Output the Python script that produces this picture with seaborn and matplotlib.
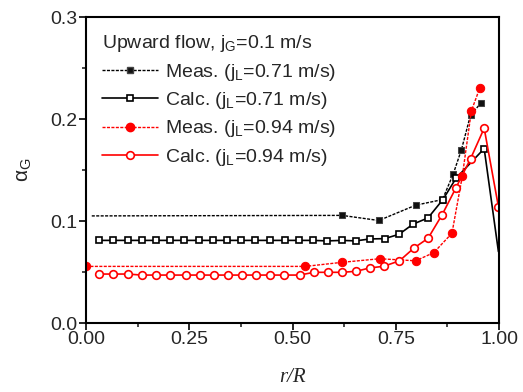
import matplotlib
matplotlib.use("Agg")
import matplotlib.pyplot as plt
from matplotlib.lines import Line2D
from matplotlib.ticker import MultipleLocator
import pandas as pd
import seaborn as sns

# Measured, j_L = 0.71 m/s (first point carries no marker)
meas71_x = [0.014, 0.620, 0.709, 0.798, 0.863, 0.889, 0.909, 0.931, 0.956]
meas71_y = [0.105, 0.1055, 0.1005, 0.1155, 0.121, 0.146, 0.170, 0.204, 0.2155]

# Calculated, j_L = 0.71 m/s
calc71_x = [0.032, 0.066, 0.101, 0.135, 0.170, 0.204, 0.238, 0.273, 0.307, 0.342,
            0.376, 0.410, 0.446, 0.481, 0.515, 0.549, 0.584, 0.620, 0.653, 0.687,
            0.723, 0.758, 0.792, 0.828, 0.864, 0.896, 0.964, 0.9985]
calc71_y = [0.081, 0.081, 0.081, 0.081, 0.081, 0.081, 0.081, 0.081, 0.081, 0.081,
            0.081, 0.081, 0.081, 0.081, 0.081, 0.081, 0.0805, 0.081, 0.0805, 0.0824,
            0.0827, 0.087, 0.097, 0.103, 0.121, 0.142, 0.171, 0.070]

# Measured, j_L = 0.94 m/s
meas94_x = [0.0, 0.531, 0.620, 0.711, 0.798, 0.842, 0.886, 0.911, 0.933, 0.953]
meas94_y = [0.0555, 0.0555, 0.0595, 0.063, 0.061, 0.069, 0.088, 0.1438, 0.208, 0.230]

# Calculated, j_L = 0.94 m/s
calc94_x = [0.032, 0.066, 0.101, 0.135, 0.170, 0.204, 0.241, 0.275, 0.309, 0.343,
            0.377, 0.412, 0.446, 0.479, 0.517, 0.552, 0.586, 0.620, 0.654, 0.687,
            0.721, 0.759, 0.794, 0.828, 0.862, 0.895, 0.931, 0.964, 0.9985]
calc94_y = [0.048, 0.048, 0.048, 0.047, 0.047, 0.047, 0.047, 0.047, 0.047, 0.047,
            0.047, 0.047, 0.047, 0.047, 0.047, 0.0497, 0.0497, 0.0497, 0.0507, 0.054,
            0.0556, 0.061, 0.0735, 0.083, 0.106, 0.132, 0.161, 0.191, 0.114]

title = "Upward flow, j$_\\mathregular{G}$=0.1 m/s"
labels = ["Meas. (j$_\\mathregular{L}$=0.71 m/s)", "Calc. (j$_\\mathregular{L}$=0.71 m/s)",
          "Meas. (j$_\\mathregular{L}$=0.94 m/s)", "Calc. (j$_\\mathregular{L}$=0.94 m/s)"]

sns.set_style("ticks")
plt.rcParams["font.family"] = ["Liberation Sans", "DejaVu Sans"]
plt.rcParams["mathtext.fontset"] = "custom"
plt.rcParams["mathtext.rm"] = "Liberation Sans"
plt.rcParams["font.size"] = 14

RED = "#ff0000"
dotted = (0, (2.2, 1.0))

fig = plt.figure(figsize=(5.23, 3.92), dpi=100)
ax = fig.add_axes([0.1644, 0.176, 0.7898, 0.7806])

sns.lineplot(x=meas71_x, y=meas71_y, ax=ax, sort=False, estimator=None, color="black",
             linestyle=dotted, linewidth=1.0, marker="s", markersize=4,
             markerfacecolor="#111111", markeredgecolor="#444444",
             markevery=list(range(1, len(meas71_x))))
sns.lineplot(x=calc71_x, y=calc71_y, ax=ax, sort=False, estimator=None, color="black",
             linewidth=1.2, marker="s", markersize=5, markerfacecolor="white",
             markeredgecolor="black", markeredgewidth=1.2,
             markevery=list(range(len(calc71_x) - 1)))
sns.lineplot(x=meas94_x, y=meas94_y, ax=ax, sort=False, estimator=None, color=RED,
             linestyle=dotted, linewidth=1.0, marker="o", markersize=6,
             markerfacecolor=RED, markeredgecolor=RED, clip_on=True)
sns.lineplot(x=calc94_x, y=calc94_y, ax=ax, sort=False, estimator=None, color=RED,
             linewidth=1.2, marker="o", markersize=5.5, markerfacecolor="white",
             markeredgecolor=RED, markeredgewidth=1.2)

ax.set_xlim(0, 1)
ax.set_ylim(0, 0.3)
ax.xaxis.set_major_locator(MultipleLocator(0.25))
ax.xaxis.set_minor_locator(MultipleLocator(0.125))
ax.yaxis.set_major_locator(MultipleLocator(0.1))
ax.yaxis.set_minor_locator(MultipleLocator(0.05))
ax.xaxis.set_major_formatter(plt.FormatStrFormatter("%.2f"))
ax.yaxis.set_major_formatter(plt.FormatStrFormatter("%.1f"))
ax.tick_params(which="major", direction="out", length=5, width=1.2, labelsize=14, pad=1,
               top=False, right=False, color="black")
ax.tick_params(which="minor", direction="out", length=3, width=1.2, top=False, right=False)
for s in ax.spines.values():
    s.set_visible(True)
    s.set_linewidth(1.5)
    s.set_color("black")

ax.set_xlabel("r/R", family=["Liberation Serif"], style="italic", fontsize=15, labelpad=14)
ax.set_ylabel("α$_\\mathregular{G}$", fontsize=15, labelpad=12)

handles = [
    Line2D([], [], color="black", linestyle=dotted, linewidth=1.0, marker="s", markersize=4,
           markerfacecolor="#111111", markeredgecolor="#444444"),
    Line2D([], [], color="black", linewidth=1.2, marker="s", markersize=5,
           markerfacecolor="white", markeredgecolor="black", markeredgewidth=1.2),
    Line2D([], [], color=RED, linestyle=dotted, linewidth=1.0, marker="o", markersize=6,
           markerfacecolor=RED, markeredgecolor=RED),
    Line2D([], [], color=RED, linewidth=1.2, marker="o", markersize=5.5,
           markerfacecolor="white", markeredgecolor=RED, markeredgewidth=1.2),
]
leg = ax.legend(handles, labels, title=title, loc="upper left", bbox_to_anchor=(0.01, 0.985),
                frameon=False, fontsize=14, title_fontsize=14, handlelength=2.9,
                handletextpad=0.35, labelspacing=0.38, borderaxespad=0.2, alignment="left")

fig.savefig("out.png", dpi=100)
